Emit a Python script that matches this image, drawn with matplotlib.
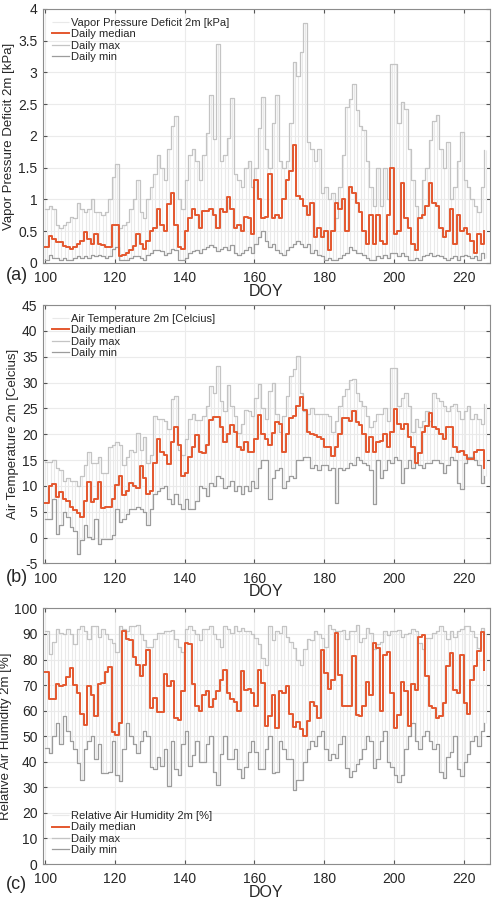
import numpy as np
import matplotlib.pyplot as plt
from matplotlib.ticker import FormatStrFormatter, MultipleLocator

narrow = ['Liberation Sans Narrow', 'Liberation Sans', 'DejaVu Sans']
plt.rcParams['font.family'] = narrow

days = np.arange(100, 227)

# vapour pressure deficit [kPa]
vpd_med = [0.25, 0.43, 0.38, 0.33, 0.33, 0.27, 0.25, 0.22, 0.25, 0.30,
           0.35, 0.48, 0.38, 0.30, 0.45, 0.30, 0.28, 0.25, 0.25, 0.60,
           0.60, 0.10, 0.12, 0.15, 0.20, 0.27, 0.45, 0.30, 0.22, 0.35,
           0.50, 0.55, 0.85, 0.60, 0.50, 0.92, 1.10, 0.60, 0.25, 0.22,
           0.50, 0.70, 0.85, 0.75, 0.55, 0.82, 0.82, 0.85, 0.75, 0.55,
           0.85, 0.80, 1.03, 0.85, 0.55, 0.60, 0.50, 0.72, 0.70, 0.45,
           1.30, 1.00, 0.70, 0.72, 1.40, 0.70, 0.75, 0.70, 1.00, 1.30,
           1.45, 1.85, 1.05, 1.00, 0.90, 0.75, 0.95, 0.40, 0.55, 0.40,
           0.50, 0.20, 0.50, 0.95, 0.85, 1.00, 0.50, 1.20, 1.10, 0.95,
           0.80, 0.50, 0.30, 0.75, 0.30, 0.75, 0.35, 0.30, 0.75, 1.50,
           0.45, 0.50, 1.25, 0.70, 0.55, 0.30, 0.20, 0.70, 0.75, 0.90,
           1.25, 0.95, 0.90, 0.55, 0.40, 0.50, 0.85, 0.30, 0.75, 0.50,
           0.55, 0.45, 0.35, 0.15, 0.45, 0.30, 0.50]
vpd_max = [0.85, 0.90, 0.85, 0.60, 0.55, 0.60, 0.65, 0.72, 0.70, 0.95,
           0.85, 0.80, 0.85, 1.00, 0.80, 0.80, 0.75, 0.80, 1.00, 1.35,
           1.55, 0.55, 0.60, 0.65, 0.85, 1.00, 1.30, 0.80, 0.70, 1.00,
           1.20, 1.40, 1.70, 1.50, 1.30, 1.80, 2.15, 2.32, 1.00, 0.85,
           1.30, 1.70, 1.80, 1.60, 1.30, 1.70, 2.05, 2.65, 1.95, 3.45,
           1.60, 1.70, 1.97, 2.60, 1.40, 1.30, 1.20, 1.50, 1.60, 1.20,
           1.50, 2.12, 2.61, 1.80, 1.50, 2.20, 2.65, 1.60, 1.50, 1.60,
           2.20, 3.16, 2.94, 3.32, 3.78, 1.90, 1.80, 1.60, 1.80, 1.10,
           1.20, 1.00, 1.10, 0.70, 1.20, 1.70, 2.46, 2.58, 2.82, 2.41,
           2.15, 2.10, 1.60, 1.20, 0.90, 1.50, 0.90, 1.50, 1.00, 3.13,
           3.13, 2.20, 2.54, 2.43, 1.80, 1.30, 0.90, 0.70, 1.30, 1.50,
           1.94, 2.24, 2.33, 1.80, 1.50, 1.90, 1.00, 1.20, 1.60, 2.06,
           1.30, 1.20, 1.00, 0.90, 0.80, 1.20, 1.78]
vpd_min = [0.05, 0.12, 0.08, 0.08, 0.05, 0.08, 0.05, 0.05, 0.08, 0.10,
           0.08, 0.10, 0.08, 0.12, 0.10, 0.12, 0.10, 0.08, 0.10, 0.22,
           0.25, 0.05, 0.05, 0.05, 0.08, 0.10, 0.10, 0.08, 0.05, 0.12,
           0.15, 0.20, 0.20, 0.18, 0.12, 0.15, 0.22, 0.20, 0.05, 0.05,
           0.08, 0.15, 0.18, 0.20, 0.15, 0.22, 0.25, 0.28, 0.25, 0.18,
           0.22, 0.25, 0.20, 0.28, 0.15, 0.12, 0.15, 0.20, 0.25, 0.15,
           0.30, 0.40, 0.50, 0.35, 0.25, 0.30, 0.20, 0.15, 0.12, 0.20,
           0.25, 0.30, 0.35, 0.30, 0.25, 0.30, 0.15, 0.20, 0.12, 0.10,
           0.05, 0.08, 0.05, 0.05, 0.08, 0.12, 0.15, 0.25, 0.20, 0.15,
           0.15, 0.12, 0.08, 0.05, 0.05, 0.10, 0.08, 0.12, 0.08, 0.15,
           0.15, 0.10, 0.15, 0.10, 0.05, 0.05, 0.08, 0.05, 0.10, 0.12,
           0.15, 0.10, 0.12, 0.10, 0.08, 0.05, 0.08, 0.10, 0.05, 0.10,
           0.12, 0.10, 0.08, 0.10, 0.05, 0.15, 0.08]

# air temperature [C]
ta_med = [6.6, 10.0, 10.3, 7.9, 8.8, 7.5, 7.0, 6.0, 5.3, 4.7,
          3.9, 7.0, 10.8, 6.8, 7.5, 10.8, 5.8, 6.0, 6.0, 7.5,
          10.2, 12.0, 8.3, 9.0, 10.5, 10.0, 9.5, 13.8, 11.5, 8.5,
          9.0, 14.5, 19.0, 16.5, 16.0, 14.2, 18.5, 21.5, 18.0, 11.9,
          12.5, 15.5, 17.5, 19.8, 16.5, 16.3, 18.0, 22.7, 23.3, 23.3,
          21.5, 18.5, 20.0, 21.8, 20.5, 17.5, 17.0, 18.5, 16.5, 16.6,
          19.0, 23.7, 20.0, 19.0, 18.0, 20.3, 22.4, 22.0, 16.5, 20.0,
          23.2, 23.5, 25.5, 27.3, 24.6, 20.5, 20.0, 19.8, 19.5, 19.0,
          17.5, 17.5, 15.7, 17.5, 20.0, 23.2, 23.2, 22.5, 24.5, 22.3,
          21.7, 20.0, 16.5, 19.5, 16.5, 18.5, 18.7, 20.0, 17.5, 20.5,
          24.8, 22.0, 21.0, 21.9, 19.5, 17.5, 14.4, 16.3, 20.5, 21.6,
          24.2, 21.5, 21.0, 20.0, 19.0, 21.5, 21.5, 17.5, 16.5, 16.8,
          16.0, 15.2, 15.2, 16.5, 17.0, 17.0, 13.5]
ta_max = [14.7, 14.7, 15.0, 13.5, 13.0, 11.0, 11.5, 11.0, 11.0, 10.0,
          12.0, 14.0, 16.5, 14.5, 14.5, 15.5, 12.5, 12.5, 17.5, 18.0,
          18.5, 18.0, 14.0, 15.5, 17.0, 16.5, 20.3, 17.0, 19.5, 14.5,
          16.0, 23.5, 23.0, 23.0, 22.5, 21.0, 26.9, 27.5, 17.0, 16.0,
          19.0, 23.0, 24.0, 22.7, 22.7, 23.5, 25.5, 29.4, 28.0, 33.2,
          26.5, 24.5, 29.5, 25.5, 23.5, 20.3, 22.0, 24.7, 24.5, 23.5,
          27.0, 29.8, 25.0, 23.0, 28.4, 29.9, 24.0, 20.5, 23.5, 27.4,
          31.2, 32.6, 35.2, 28.0, 24.5, 24.0, 25.0, 24.0, 24.0, 24.0,
          24.0, 23.5, 20.5, 22.5, 25.5, 27.4, 28.8, 30.5, 30.6, 28.0,
          26.5, 25.5, 23.5, 21.5, 22.5, 24.0, 24.0, 25.0, 22.5, 32.9,
          32.9, 25.5, 27.0, 28.0, 25.5, 20.5, 23.0, 21.5, 22.5, 24.5,
          22.5, 28.0, 27.0, 26.5, 25.5, 24.5, 25.5, 25.8, 24.5, 23.0,
          24.5, 25.5, 23.0, 24.0, 23.0, 22.0, 25.8]
ta_min = [3.5, 3.5, 7.5, 0.7, 2.5, 5.0, 4.0, 2.0, 1.3, -3.2,
          -0.5, 2.5, 0.2, -0.3, 3.5, -1.2, -0.2, -0.3, -0.3, 0.5,
          5.5, 3.0, 3.5, 4.5, 5.5, 5.5, 6.0, 5.5, 5.0, 2.5,
          5.5, 8.5, 9.0, 9.5, 10.0, 7.5, 6.5, 8.5, 6.5, 5.5,
          7.5, 5.5, 5.5, 7.0, 10.0, 9.5, 8.0, 10.5, 10.0, 12.0,
          11.5, 9.5, 10.0, 11.0, 9.0, 10.0, 8.5, 10.0, 9.0, 11.0,
          9.5, 13.5, 15.0, 15.0, 7.5, 11.5, 13.0, 13.5, 9.5, 11.0,
          12.0, 11.5, 15.0, 15.0, 15.5, 15.5, 13.5, 14.0, 13.0, 14.0,
          14.0, 13.0, 13.5, 6.6, 13.5, 13.0, 13.5, 14.5, 14.0, 15.5,
          15.0, 14.5, 14.0, 13.0, 6.5, 15.0, 11.5, 13.0, 15.0, 14.5,
          15.5, 15.0, 10.5, 13.5, 15.0, 13.5, 14.5, 14.0, 13.5, 14.5,
          14.5, 15.0, 15.0, 14.5, 12.5, 14.0, 15.5, 15.0, 10.5, 9.4,
          14.5, 15.5, 15.5, 15.0, 14.0, 10.6, 12.0]

# relative humidity [%]
rh_med = [75.3, 64.5, 64.5, 70.5, 69.5, 70.0, 73.0, 76.6, 70.0, 67.0,
          58.5, 54.3, 69.7, 66.0, 58.0, 70.5, 71.0, 75.0, 77.0, 51.5,
          50.5, 55.0, 91.0, 88.0, 87.5, 81.0, 78.0, 73.5, 78.0, 83.8,
          61.0, 65.0, 59.5, 59.5, 74.5, 69.5, 71.5, 57.0, 56.5, 67.5,
          86.5, 86.0, 70.5, 62.0, 60.0, 66.0, 67.5, 61.5, 64.5, 67.5,
          72.0, 76.0, 67.0, 64.5, 63.5, 60.0, 75.5, 68.0, 68.5, 67.0,
          62.0, 76.0, 70.8, 53.9, 58.0, 66.2, 53.2, 67.5, 67.0, 69.5,
          58.5, 53.5, 55.5, 53.0, 50.0, 56.0, 63.5, 62.0, 57.0, 83.8,
          74.7, 68.5, 72.0, 90.3, 74.0, 61.7, 62.0, 61.7, 81.2, 58.4,
          57.8, 62.0, 71.4, 66.0, 86.4, 84.4, 60.0, 81.8, 83.1, 67.0,
          53.2, 58.4, 71.4, 67.5, 53.9, 70.5, 68.0, 89.0, 89.6, 73.4,
          62.0, 61.0, 57.0, 57.8, 63.0, 77.3, 82.5, 68.2, 67.0, 81.8,
          63.0, 58.5, 72.0, 77.3, 83.5, 90.6, 76.0]
rh_max = [91, 82, 87, 92, 90.5, 90, 92, 90, 86, 92,
          93, 91, 88, 93, 93, 89, 92, 90, 88, 86.5,
          83, 93, 92, 91, 93, 93, 93.5, 90, 87.5, 85,
          85, 88, 90.5, 90.5, 91, 91, 91.5, 88, 85, 83,
          92, 93, 91.5, 90, 87.5, 92, 92, 93, 90, 88,
          85, 93, 92, 90.5, 93, 91, 92.5, 91, 91, 90,
          88.5, 86, 80.5, 78, 93, 87.5, 91, 90.5, 93, 89,
          87, 84.5, 80, 78, 84, 88, 87.5, 91, 90, 88.5,
          85, 93.5, 92, 91, 91, 91.5, 88, 91, 91, 93.5,
          87, 88.5, 92.5, 90.5, 84, 86, 87, 91, 89.5, 91,
          91, 91.5, 89, 90, 90.5, 92, 91, 86.5, 84, 88.5,
          88.5, 90.5, 91, 93, 91, 88, 91, 89, 91, 92,
          93, 93, 91, 89, 84.5, 92.5, 90]
rh_min = [45.5, 43.5, 50, 55, 47, 58, 52, 48, 45, 39.5,
          33, 45, 48, 50, 41, 47, 35.5, 35.5, 36, 48,
          35, 32.5, 45, 55, 50, 47, 43.5, 48, 52, 50,
          38, 37, 42, 38.5, 45, 30.5, 48, 37, 35, 47,
          52, 38.5, 42.5, 48, 40, 40, 47, 50, 36, 31,
          43, 50, 41, 41, 45, 37, 33.5, 38, 44, 48,
          44, 37, 37, 45, 50, 35.5, 36, 48, 45, 41,
          41, 29, 32.8, 33, 40, 45, 48, 46, 50, 52,
          45, 40.5, 43, 41.5, 47, 50, 37.5, 34, 36.5, 39,
          41, 45, 50, 48, 37.5, 41, 48, 52, 40, 38,
          35, 32, 35, 45, 50, 55, 48, 45, 50, 52,
          48, 45, 47, 36, 33.5, 42, 44, 50, 37, 34.5,
          40, 43, 48, 50, 46, 52, 55]

c_raw = '#e9e9e9'
c_med = '#e4572e'
c_max = '#c4c4c4'
c_min = '#9c9c9c'
c_txt = '#262626'

panels = [
    (vpd_med, vpd_max, vpd_min, 'Vapor Pressure Deficit 2m [kPa]',
     (0, 4), 0.5, 'upper left', '(a)'),
    (ta_med, ta_max, ta_min, 'Air Temperature 2m [Celcius]',
     (-5, 45), 5, 'upper left', '(b)'),
    (rh_med, rh_max, rh_min, 'Relative Air Humidity 2m [%]',
     (0, 100), 10, 'lower left', '(c)'),
]
rects = [[0.086, 0.708, 0.894, 0.282],
         [0.086, 0.374, 0.894, 0.287],
         [0.086, 0.040, 0.894, 0.284]]
tag_y = [0.694, 0.358, 0.017]

fig = plt.figure(figsize=(5, 9), dpi=100)
for (med, mx, mn, name, ylim, step, loc, tag), r, ty in zip(panels, rects, tag_y):
    ax = fig.add_axes(r)
    ax.vlines(days + 0.5, mn, mx, color=c_raw, lw=0.8, label=name)
    ax.step(days, med, where='post', color=c_med, lw=1.4, label='Daily median', zorder=4)
    ax.step(days, mx, where='post', color=c_max, lw=0.9, label='Daily max', zorder=3)
    ax.step(days, mn, where='post', color=c_min, lw=0.9, label='Daily min', zorder=3)
    ax.set_xlim(99.3, 227.6)
    ax.set_ylim(*ylim)
    ax.xaxis.set_major_locator(MultipleLocator(20))
    ax.yaxis.set_major_locator(MultipleLocator(step))
    ax.yaxis.set_major_formatter(FormatStrFormatter('%g'))
    ax.grid(True, color='#ebebeb', lw=0.8)
    ax.set_axisbelow(True)
    ax.tick_params(direction='in', length=3, top=True, right=True,
                   labelsize=10, colors='#555555', labelcolor=c_txt)
    ax.tick_params(axis='x', pad=6)
    ax.tick_params(axis='y', pad=4)
    for s in ax.spines.values():
        s.set_color('#8c8c8c')
        s.set_linewidth(0.8)
    ax.set_ylabel(name, fontsize=9.5, color=c_txt, labelpad=2,
                  family=['Liberation Sans', 'DejaVu Sans'])
    ax.set_xlabel('DOY', fontsize=11.5, color=c_txt, labelpad=-1)
    leg = ax.legend(loc=loc, frameon=False, fontsize=8, handlelength=1.5,
                    handletextpad=0.25, labelspacing=0.12, borderaxespad=0.4)
    for t in leg.get_texts():
        t.set_color(c_txt)
    fig.text(0.012, ty, tag, fontsize=13, color=c_txt, va='center')

fig.savefig('out.png', dpi=100)
